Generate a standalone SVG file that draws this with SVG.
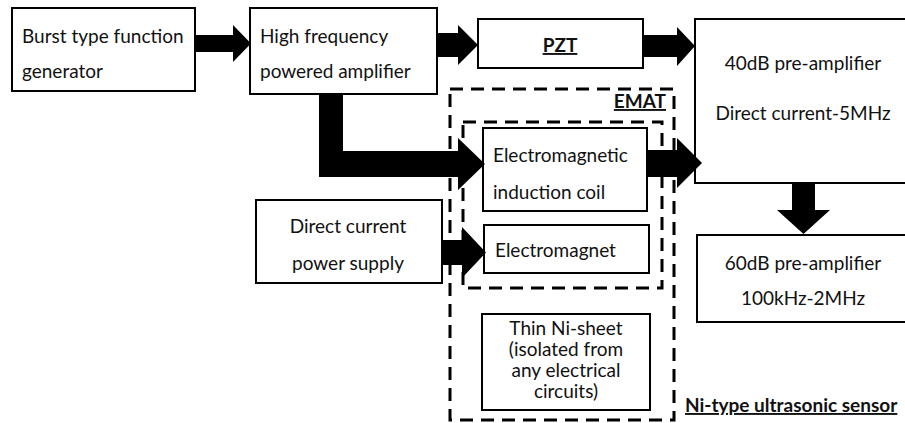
<svg xmlns="http://www.w3.org/2000/svg" width="905" height="423" viewBox="0 0 905 423">
<style>
.box{fill:#fff;stroke:#000;stroke-width:2}
.dash{fill:none;stroke:#000;stroke-width:3;stroke-dasharray:13 8}
.t{font-family:Lato,"Open Sans",sans-serif;font-size:19px;fill:#111}
.c{text-anchor:middle}
.b{font-weight:bold;text-decoration:underline}
.arr{fill:#000;stroke:none}
</style>
<rect width="905" height="423" fill="#fff"/>
<g id="sensor-boundary">
<rect class="dash" x="450" y="89" width="224" height="331"/>
<text class="t b" x="685" y="412">Ni-type ultrasonic sensor</text>
</g>
<g id="emat">
<rect class="dash" x="463" y="122" width="199" height="166"/>
<text class="t b" x="666" y="108" text-anchor="end">EMAT</text>
</g>
<g id="generator">
<rect class="box" x="12" y="8" width="183" height="83"/>
<text class="t" x="22" y="43">Burst type function</text>
<text class="t" x="22" y="78">generator</text>
</g>
<g id="hf-amplifier">
<rect class="box" x="250" y="8" width="187" height="86"/>
<text class="t" x="260" y="43">High frequency</text>
<text class="t" x="260" y="78">powered amplifier</text>
</g>
<g id="pzt">
<rect class="box" x="478" y="19" width="165" height="49"/>
<text class="t c b" x="560" y="52">PZT</text>
</g>
<g id="pre40">
<rect class="box" x="695" y="19" width="220" height="164"/>
<text class="t c" x="803" y="70">40dB pre-amplifier</text>
<text class="t c" x="803" y="120">Direct current-5MHz</text>
</g>
<g id="coil">
<rect class="box" x="483" y="128" width="164" height="83"/>
<text class="t" x="493" y="162">Electromagnetic</text>
<text class="t" x="493" y="199">induction coil</text>
</g>
<g id="dc-supply">
<rect class="box" x="256" y="200" width="186" height="83"/>
<text class="t c" x="348" y="233">Direct current</text>
<text class="t c" x="348" y="270">power supply</text>
</g>
<g id="electromagnet">
<rect class="box" x="484" y="225" width="165" height="48"/>
<text class="t" x="495" y="257">Electromagnet</text>
</g>
<g id="pre60">
<rect class="box" x="697" y="235" width="220" height="87"/>
<text class="t c" x="803" y="270">60dB pre-amplifier</text>
<text class="t c" x="803" y="305">100kHz-2MHz</text>
</g>
<g id="ni-sheet">
<rect class="box" x="482" y="314" width="168" height="96"/>
<text class="t c" x="566" y="335">Thin Ni-sheet</text>
<text class="t c" x="566" y="356">(isolated from</text>
<text class="t c" x="566" y="377">any electrical</text>
<text class="t c" x="566" y="398">circuits)</text>
</g>
<g id="connectors">
<polygon class="arr" points="196,35 233,35 233,25 251,43.5 233,62 233,52 196,52"/>
<polygon class="arr" points="438,33 458,33 458,25 478,45 458,65 458,57 438,57"/>
<polygon class="arr" points="644,35 677,35 677,27 695,46 677,66 677,57 644,57"/>
<polygon class="arr" points="319,95 343,95 343,151 458,151 458,138 485,164 458,190 458,177 319,177"/>
<polygon class="arr" points="648,150 677,150 677,138 702,163 677,188 677,177 648,177"/>
<polygon class="arr" points="443,240 462,240 462,227 486,252.5 462,278 462,265 443,265"/>
<polygon class="arr" points="792,184 815,184 815,210 830,210 803.5,234 777,210 792,210"/>
</g>
</svg>
